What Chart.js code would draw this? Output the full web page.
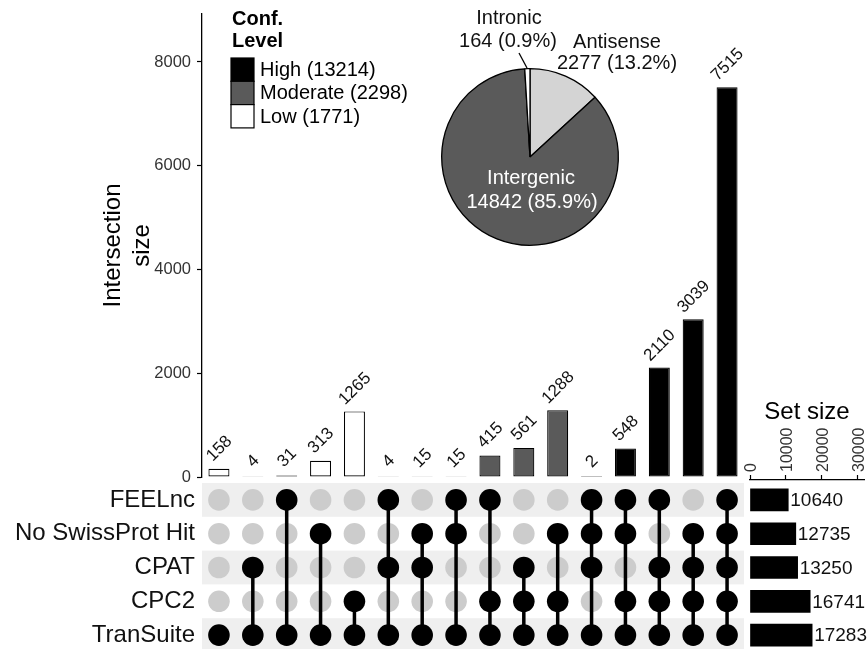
<!DOCTYPE html>
<html>
<head>
<meta charset="utf-8">
<script src="https://cdn.jsdelivr.net/npm/chart.js@4.4.1/dist/chart.umd.min.js"></script>
<style>
  html, body { margin: 0; padding: 0; background: #fff; overflow: hidden; width: 867px; height: 649px; }
  canvas { position: absolute; }
</style>
</head>
<body>
<canvas id="bars" width="760" height="489" style="left:0;top:0"></canvas>
<canvas id="matrix" width="760" height="169" style="left:0;top:483px"></canvas>
<canvas id="setsize" width="127" height="258" style="left:740px;top:394px"></canvas>
<canvas id="pie" width="260" height="260" style="left:430px;top:0"></canvas>
<script>
// data
var sets = ['FEELnc', 'No SwissProt Hit', 'CPAT', 'CPC2', 'TranSuite'];
var setSizes = [10640, 12735, 13250, 16741, 17283];
var setSizeTicks = [0, 10000, 20000, 30000];

// each intersection: indexes into sets
var members = [
  [4], [2, 4], [0, 4], [1, 4], [3, 4],
  [0, 2, 4], [1, 2, 4], [0, 1, 4], [0, 3, 4], [2, 3, 4], [1, 3, 4],
  [0, 1, 2, 4], [0, 1, 3, 4], [0, 2, 3, 4], [1, 2, 3, 4], [0, 1, 2, 3, 4]
];
var intersectionSizes = [158, 4, 31, 313, 1265, 4, 15, 15, 415, 561, 1288, 2, 548, 2110, 3039, 7515];
var confLevels = ['Low', 'Low', 'Low', 'Low', 'Low',
  'Moderate', 'Moderate', 'Moderate', 'Moderate', 'Moderate', 'Moderate',
  'High', 'High', 'High', 'High', 'High'];
var levelNames = ['High', 'Moderate', 'Low'];
var levelColors = ['#000000', '#5a5a5a', '#ffffff'];
var yTicks = [0, 2000, 4000, 6000, 8000];

var pieLabels = ['Antisense', 'Intergenic', 'Intronic'];
var pieValues = [2277, 14842, 164];
var pieColors = ['#d4d4d4', '#5a5a5a', '#ffffff'];

var family = '"Liberation Sans", Arial, Helvetica, sans-serif';
Chart.defaults.font.family = family;

var colLabels = members.map(function (m) { return m.map(function (i) { return sets[i]; }).join(' & '); });
var plain = function (v) { return String(v); };

// intersection size bars
var barExtras = {
  id: 'barExtras',
  afterDraw: function (chart) {
    var ctx = chart.ctx, x = chart.scales.x, y = chart.scales.y;
    ctx.save();
    ctx.fillStyle = '#111';
    ctx.font = '17px ' + family;
    ctx.textAlign = 'center';
    ctx.textBaseline = 'middle';
    intersectionSizes.forEach(function (v, i) {
      var txt = String(v), w = ctx.measureText(txt).width;
      ctx.save();
      ctx.translate(x.getPixelForValue(i) + 0.5, y.getPixelForValue(v) - 13 - 0.25 * w);
      ctx.rotate(-Math.PI / 4);
      ctx.fillText(txt, 0, 0);
      ctx.restore();
    });

    // legend
    ctx.textAlign = 'left';
    ctx.fillStyle = '#000';
    ctx.font = 'bold 20px ' + family;
    ctx.fillText('Conf.', 232, 19);
    ctx.fillText('Level', 232, 41);
    ctx.font = '20px ' + family;
    levelNames.forEach(function (lv, k) {
      var total = 0;
      intersectionSizes.forEach(function (v, i) { if (confLevels[i] === lv) total += v; });
      var top = 58 + k * 23.3;
      ctx.fillStyle = levelColors[k];
      ctx.fillRect(231, top, 23, 23.3);
      ctx.strokeStyle = '#000';
      ctx.lineWidth = 1.2;
      ctx.strokeRect(231, top, 23, 23.3);
      ctx.fillStyle = '#000';
      ctx.fillText(lv + ' (' + total + ')', 260, top + 12.5);
    });
    ctx.restore();
  }
};

new Chart(document.getElementById('bars'), {
  type: 'bar',
  data: {
    labels: colLabels,
    datasets: levelNames.map(function (lv, k) {
      return {
        label: lv,
        data: intersectionSizes.map(function (v, i) { return confLevels[i] === lv ? v : null; }),
        backgroundColor: levelColors[k],
        borderColor: '#000',
        borderWidth: 1.2,
        borderSkipped: false,
        barPercentage: 0.62,
        categoryPercentage: 1
      };
    })
  },
  options: {
    responsive: false,
    animation: false,
    layout: { autoPadding: false, padding: { left: 95, top: 14, right: 16, bottom: 12 } },
    plugins: { legend: { display: false }, tooltip: { enabled: false } },
    scales: {
      x: { stacked: true, display: false },
      y: {
        stacked: true, min: 0, max: 8925,
        border: { color: '#000', width: 1.3 },
        grid: { drawOnChartArea: false, color: '#000', tickLength: 5, tickWidth: 1.2 },
        ticks: { padding: 6, color: '#333', font: { size: 16.5 }, callback: plain },
        title: { display: true, text: ['Intersection', 'size'], color: '#000', font: { size: 24 }, padding: { top: 4, bottom: 4 } },
        afterBuildTicks: function (s) { s.ticks = yTicks.map(function (v) { return { value: v }; }); },
        afterFit: function (s) { s.width = 107; s.paddingTop = 0; s.paddingBottom = 0; }
      }
    }
  },
  plugins: [barExtras]
});

// matrix of dots
var onPts = [], offPts = [];
members.forEach(function (m, c) {
  sets.forEach(function (s, r) {
    (m.indexOf(r) >= 0 ? onPts : offPts).push({ x: c, y: r });
  });
});
var matrixSets = [
  { data: onPts, pointRadius: 10.8, pointBackgroundColor: '#000', pointBorderWidth: 0, order: 0 }
];
members.forEach(function (m, c) {
  matrixSets.push({
    data: [{ x: c, y: Math.min.apply(null, m) }, { x: c, y: Math.max.apply(null, m) }],
    showLine: true, borderColor: '#000', borderWidth: 3.5, pointRadius: 0, order: 1
  });
});
matrixSets.push({ data: offPts, pointRadius: 10.8, pointBackgroundColor: '#cccccc', pointBorderWidth: 0, order: 2 });

var bands = {
  id: 'bands',
  beforeDatasetsDraw: function (chart) {
    var ctx = chart.ctx, a = chart.chartArea, y = chart.scales.y;
    ctx.save();
    ctx.fillStyle = '#efefef';
    sets.forEach(function (s, i) {
      if (i % 2 !== 0) return;
      var t = y.getPixelForValue(i - 0.5), b = y.getPixelForValue(i + 0.5);
      ctx.fillRect(a.left, Math.min(t, b), a.right - a.left, Math.abs(b - t));
    });
    ctx.restore();
  }
};

new Chart(document.getElementById('matrix'), {
  type: 'scatter',
  data: { datasets: matrixSets },
  options: {
    responsive: false,
    animation: false,
    layout: { autoPadding: false, padding: { left: 0, top: 0, right: 16, bottom: 0 } },
    plugins: { legend: { display: false }, tooltip: { enabled: false } },
    scales: {
      x: { type: 'linear', display: false, min: -0.5, max: intersectionSizes.length - 0.5 },
      y: {
        type: 'linear', reverse: true, min: -0.5, max: sets.length - 0.5,
        border: { display: false },
        grid: { display: false, drawTicks: false },
        ticks: {
          padding: 7, color: '#111', font: { size: 24 }, autoSkip: false,
          callback: function (v) { return sets[v] || ''; }
        },
        afterBuildTicks: function (s) { s.ticks = sets.map(function (n, i) { return { value: i }; }); },
        afterFit: function (s) { s.width = 202; s.paddingTop = 0; s.paddingBottom = 0; }
      }
    }
  },
  plugins: [bands]
});

// set size bars
var setSizeLabels = {
  id: 'setSizeLabels',
  afterDraw: function (chart) {
    var ctx = chart.ctx, x = chart.scales.x, y = chart.scales.y;
    ctx.save();
    ctx.fillStyle = '#111';
    ctx.font = '19px ' + family;
    ctx.textAlign = 'left';
    ctx.textBaseline = 'middle';
    setSizes.forEach(function (v, i) {
      ctx.fillText(String(v), x.getPixelForValue(v) + 2, y.getPixelForValue(i) + 1);
    });
    ctx.restore();
  }
};

new Chart(document.getElementById('setsize'), {
  type: 'bar',
  data: {
    labels: sets,
    datasets: [{
      data: setSizes.map(function (v, i) { return { x: v, y: i }; }),
      backgroundColor: '#000', borderWidth: 0, barThickness: 22
    }]
  },
  options: {
    indexAxis: 'y',
    responsive: false,
    animation: false,
    layout: { autoPadding: false, padding: { left: 10, right: 3, top: 0, bottom: 0 } },
    plugins: { legend: { display: false }, tooltip: { enabled: false } },
    scales: {
      x: {
        position: 'top', min: 0, max: 31700,
        border: { color: '#000', width: 1.2 },
        grid: { drawOnChartArea: false, color: '#000', tickLength: 5, tickWidth: 1.2 },
        ticks: { minRotation: 90, maxRotation: 90, padding: 3, labelOffset: 21, color: '#333', font: { size: 16 }, autoSkip: false, callback: plain },
        title: { display: true, text: 'Set size', color: '#000', font: { size: 24 }, padding: { top: 4, bottom: 0 } },
        afterBuildTicks: function (s) { s.ticks = setSizeTicks.map(function (v) { return { value: v }; }); },
        afterFit: function (s) { s.height = 86; s.paddingLeft = 0; s.paddingRight = 0; }
      },
      y: { type: 'linear', display: false, offset: false, reverse: true, min: -0.59, max: sets.length - 0.5 }
    }
  },
  plugins: [setSizeLabels]
});

// pie of transcript classes
var pieText = {
  id: 'pieText',
  afterDraw: function (chart) {
    var ctx = chart.ctx, arc = chart.getDatasetMeta(0).data[0];
    var cx = arc.x, cy = arc.y;
    var total = pieValues.reduce(function (a, b) { return a + b; }, 0);
    function lab(i) { return pieValues[i] + ' (' + (pieValues[i] / total * 100).toFixed(1) + '%)'; }
    ctx.save();
    ctx.font = '20px ' + family;
    ctx.textAlign = 'center';
    ctx.textBaseline = 'middle';
    ctx.fillStyle = '#111';
    ctx.fillText(pieLabels[2], cx - 21, cy - 139);
    ctx.fillText(lab(2), cx - 22, cy - 116);
    ctx.fillText(pieLabels[0], cx + 87, cy - 115);
    ctx.fillText(lab(0), cx + 87, cy - 94);
    ctx.fillStyle = '#fff';
    ctx.fillText(pieLabels[1], cx + 1, cy + 21);
    ctx.fillText(lab(1), cx + 2, cy + 45);
    ctx.strokeStyle = '#000';
    ctx.lineWidth = 1.3;
    ctx.beginPath();
    ctx.moveTo(cx - 11, cy - 104);
    ctx.lineTo(cx - 3, cy - 89);
    ctx.stroke();
    ctx.restore();
  }
};

new Chart(document.getElementById('pie'), {
  type: 'pie',
  data: {
    labels: pieLabels,
    datasets: [{ data: pieValues, backgroundColor: pieColors, borderColor: '#000', borderWidth: 1.3, hoverOffset: 0 }]
  },
  options: {
    responsive: false,
    animation: false,
    layout: { padding: { left: 11, right: 71, top: 68, bottom: 14 } },
    plugins: { legend: { display: false }, tooltip: { enabled: false } }
  },
  plugins: [pieText]
});
</script>
</body>
</html>
